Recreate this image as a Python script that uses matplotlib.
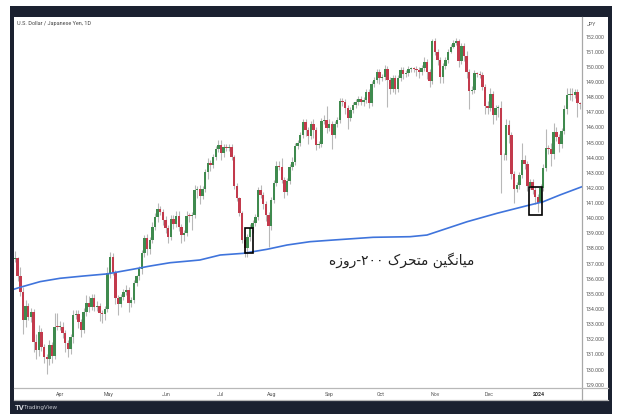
import matplotlib
matplotlib.use("Agg")
import matplotlib.pyplot as plt
from matplotlib.patches import Rectangle
from matplotlib.lines import Line2D
import numpy as np

W, H = 624, 420

first_open = 137.30
closes = [
    137.36, 136.15, 135.15, 133.28, 134.21, 133.46, 133.77, 131.85, 131.30, 132.47,
    131.52, 130.86, 130.70, 131.63, 130.90, 132.84, 132.80, 132.84, 132.40, 131.74,
    131.34, 132.14, 133.61, 133.66, 133.17, 132.62, 133.77, 134.43, 134.12, 134.71,
    134.16, 134.21, 133.72, 133.70, 133.99, 136.37, 137.47, 136.47, 134.71, 134.32,
    134.78, 135.15, 135.26, 134.43, 134.60, 135.75, 136.15, 136.63, 137.73, 138.68,
    137.95, 138.57, 139.45, 140.06, 140.59, 140.43, 139.88, 139.33, 138.78, 139.93,
    139.62, 140.15, 139.44, 138.89, 139.00, 140.15, 140.14, 140.21, 141.87, 141.91,
    141.47, 141.91, 143.08, 143.67, 143.52, 144.02, 144.55, 144.84, 144.33, 144.68,
    144.62, 144.68, 144.07, 142.15, 141.31, 140.37, 138.56, 138.01, 138.78, 139.33,
    139.66, 140.10, 141.87, 141.54, 140.94, 140.21, 139.49, 141.21, 142.31, 143.45,
    143.41, 142.53, 141.76, 142.48, 143.41, 143.74, 144.77, 144.95, 145.50, 146.38,
    145.83, 145.43, 146.23, 145.83, 144.84, 144.91, 146.45, 146.49, 145.94, 146.23,
    145.50, 146.23, 146.49, 147.75, 147.70, 147.26, 146.60, 147.15, 147.48, 147.70,
    147.86, 147.70, 147.81, 148.36, 147.59, 148.87, 149.14, 149.69, 149.25, 149.36,
    149.86, 149.14, 148.52, 149.25, 148.52, 149.25, 149.80, 149.53, 149.62, 149.84,
    149.91, 149.84, 149.80, 149.69, 149.91, 150.35, 149.69, 149.07, 151.73, 150.96,
    150.46, 149.36, 150.06, 150.46, 151.01, 151.34, 151.56, 151.73, 150.41, 151.38,
    150.72, 149.69, 148.43, 148.47, 149.58, 149.51, 149.47, 148.69, 147.42, 147.26,
    148.21, 146.82, 147.26, 147.28, 144.18, 144.15, 146.16, 145.50, 142.92, 141.91,
    142.20, 142.86, 143.85, 143.58, 142.13, 142.42, 141.87, 141.43, 141.03, 141.98,
    143.30, 144.62, 144.55, 144.22, 145.72, 145.39, 144.91, 145.79, 147.20, 148.14,
    148.21, 148.17, 148.36, 147.59, 147.55,
]
# wick lengths above and below the body, read per candle
upper_wicks = [
    .5, .1, .6, .3, .4, .2, .3, .2, .5, .5,
    .3, .2, .2, .3, .2, .9, .9, .4, .3, .2,
    .2, .2, .3, .3, .3, .2, .3, .5, .4, .3,
    .3, .3, .2, .2, .2, .4, .3, .2, .1, .2,
    .2, .2, .3, .2, .2, .2, .1, .2, .2, .2,
    .3, .2, .3, .3, .4, .2, .2, .3, .2, .3,
    .3, .3, .3, .2, .2, .3, .2, .2, .3, .2,
    .3, .2, .2, .3, .2, .2, .2, .3, .3, .2,
    .2, .2, .2, .1, .2, .1, .1, .2, .2, .3,
    .2, .2, .2, .3, .2, .2, .2, .2, .2, .3,
    .3, .6, .2, .2, .2, .3, .2, .2, .2, .2,
    .2, .2, .2, .3, .2, .2, .2, .3, .9, .3,
    .2, .2, .2, .2, .2, .2, .2, .2, .2, .2,
    .2, .2, .2, .2, .2, .2, .2, .2, .2, .2,
    .3, .2, .2, .2, .2, .2, .2, .2, .2, .2,
    .1, .1, .2, .2, .2, .3, .2, .2, .1, .2,
    .2, .2, .2, .2, .2, .2, .2, .2, .1, .2,
    .2, .3, .2, .3, .2, .1, .2, .2, .2, .3,
    .4, .2, .2, .2, .5, .1, .4, .3, .2, .2,
    .2, .2, 1.1, .3, .2, .2, .2, .2, .2, .3,
    .3, 1.3, .2, .4, .6, .3, .2, .2, .3, .5,
    .4, .4, .2, .2, .1,
]
lower_wicks = [
    .2, .3, .3, .9, .5, .2, .3, .7, .6, .4,
    .3, .4, 1.0, .4, .5, .2, .2, .2, .3, .6,
    .5, .3, .4, .3, .4, .5, .2, .2, .3, .2,
    .3, .3, .5, .6, .4, .2, .3, .2, .4, .7,
    .2, .2, .2, .6, .3, .2, .2, .2, .3, .3,
    .4, .3, .2, .2, .3, .2, .3, .3, .4, .2,
    .3, .2, .3, .5, .4, .2, .4, .9, .2, .5,
    .5, .2, .2, .5, .4, .2, .2, .2, .5, .3,
    .2, .2, .2, .2, .2, .2, .2, .6, .6, .3,
    .3, .2, .2, .2, .3, .4, 1.4, .3, .2, .2,
    .2, .2, .4, .2, .2, .2, .2, .2, .2, .2,
    .4, .5, .2, .5, .3, .2, .2, .2, .3, .2,
    .95, .2, .2, .2, .3, .4, .7, .2, .2, .2,
    .2, .2, .3, .2, .3, .2, .2, .2, .4, .2,
    .2, 1.76, .3, .2, .3, .2, .2, .3, .2, .2,
    .2, .2, .4, .4, .2, .2, .5, .4, .2, .2,
    .3, .4, .4, .2, .2, .1, .1, .1, .4, .2,
    .3, .4, 1.2, .2, .2, .2, .2, .2, .5, .4,
    .2, .6, .3, .6, 2.54, .3, .3, .5, .3, .9,
    .2, .3, .2, .3, .3, .2, .3, .5, .6, .1,
    .2, .2, .3, .75, .3, .3, .5, .3, .2, .3,
    .3, .4, .2, .9, .3,
]

# 200-day average, sampled along the curve
ma_index = [-0.4, 2, 9.5, 17, 25.8, 34.8, 44.7, 51.1, 58.7, 66.3, 70, 77.7, 86.4, 95.5,
            103, 111.7, 120.5, 135.6, 149.6, 156, 163.6, 171.2, 182.6, 193.9, 200, 206.4, 214.8]
ma_values = [135.31, 135.44, 135.81, 136.03, 136.18, 136.32, 136.63, 136.84, 137.06, 137.18,
             137.24, 137.57, 137.68, 137.95, 138.23, 138.45, 138.56, 138.74, 138.78, 138.89,
             139.33, 139.77, 140.33, 140.83, 141.09, 141.54, 142.09]

month_labels = ["Apr", "May", "Jun", "Jul", "Aug", "Sep", "Oct", "Nov", "Dec", "2024"]
month_index = [17, 35.6, 57.2, 77.9, 97.3, 119, 138.6, 159, 179.5, 198.5]
price_ticks = list(range(129, 153))

closes = np.array(closes)
opens = np.r_[first_open, closes[:-1]]
up = closes >= opens
x = np.arange(len(closes))
tops = np.maximum(opens, closes)
bottoms = np.minimum(opens, closes)

plt.rcParams["font.family"] = ["Roboto", "DejaVu Sans"]
fig = plt.figure(figsize=(W / 100, H / 100), dpi=100, facecolor="white")


def frac_box(x0, y0, x1, y1, **kw):
    fig.add_artist(Rectangle((x0 / W, 1 - y1 / H), (x1 - x0) / W, (y1 - y0) / H,
                             transform=fig.transFigure, **kw))


def frac_line(x0, y0, x1, y1, **kw):
    fig.add_artist(Line2D([x0 / W, x1 / W], [1 - y0 / H, 1 - y1 / H],
                          transform=fig.transFigure, **kw))


# dark TradingView frame
frac_box(10, 6, 612, 414, facecolor="#1b2130", edgecolor="none", zorder=0)
frac_box(14, 17, 608, 400, facecolor="white", edgecolor="none", zorder=0.5)

ax = fig.add_axes([14 / W, 1 - 388 / H, (581.7 - 14) / W, (388 - 17) / H])
ax.set_zorder(1)
ax.set_facecolor("white")
ax.set_xlim(-0.4, 214.6)
ax.set_ylim(128.78, 153.30)
for s in ax.spines.values():
    s.set_visible(False)

ax.vlines(x, bottoms - np.array(lower_wicks), tops + np.array(upper_wicks),
          color="#b8b8b8", linewidth=0.8, zorder=2)
heights = np.maximum(tops - bottoms, 0.06)
ax.bar(x[up], heights[up], bottom=bottoms[up], width=0.92, color="#3f8a4e", zorder=3)
ax.bar(x[~up], heights[~up], bottom=bottoms[~up], width=0.92, color="#c23a4c", zorder=3)
ax.plot(ma_index, ma_values, color="#3f74dc", linewidth=1.2, zorder=4)

# the two marked touches of the average
for bx0, bx1, by0, by1 in [(87.1, 90.0, 137.68, 139.35), (194.7, 199.6, 140.20, 142.06)]:
    ax.add_patch(Rectangle((bx0, by0), bx1 - bx0, by1 - by0, fill=False,
                           edgecolor="black", linewidth=1.2, zorder=5))

ax.yaxis.tick_right()
ax.set_yticks(price_ticks)
ax.set_yticklabels([f"{p}.000" for p in price_ticks])
ax.set_xticks(month_index)
ax.set_xticklabels(month_labels)
ax.tick_params(axis="both", length=0, labelsize=3.8, labelcolor="#555555")
ax.tick_params(axis="y", pad=2.5)
ax.tick_params(axis="x", pad=3)
ax.get_xticklabels()[-1].set_fontweight("bold")
ax.get_xticklabels()[-1].set_color("#333333")

frac_line(581.7, 17, 581.7, 400, color="#a8a8a8", linewidth=0.9, zorder=6)
frac_line(14, 388, 608, 388, color="#b8b8b8", linewidth=0.9, zorder=6)
frac_line(14, 400, 608, 400, color="#b8b8b8", linewidth=0.9, zorder=0.6)

fig.text(17 / W, 1 - 24 / H, "U.S. Dollar / Japanese Yen, 1D", fontsize=4.0, color="#444444",
         va="center", ha="left")
fig.text(591.5 / W, 1 - 24 / H, "JPY", fontsize=3.8, color="#555555", va="center", ha="center")
fig.text(24 / W, 1 - 407.5 / H, "TradingView", fontsize=4.4, color="#b9bcc4", va="center",
         ha="left")
fig.text(14.5 / W, 1 - 407.5 / H, "TV", fontsize=5.6, fontweight="bold", color="#d6d8de",
         va="center", ha="left")

# matplotlib does no Arabic shaping, so the caption is in presentation forms, visual order
caption = ("\ufee9\ufeaf\ufeed\ufead-\u06f2\u06f0\u06f0 "
           "\ufb8e\ufeae\ufea4\ufe98\ufee3 "
           "\ufee6\ufbff\ufb95\ufee7\ufe8e\ufbff\ufee3")
fig.text(402 / W, 1 - 260 / H, caption, fontsize=9.9, color="#222222", va="center", ha="center",
         family=["DejaVu Sans"], zorder=7)

fig.savefig("out.png", dpi=100)
